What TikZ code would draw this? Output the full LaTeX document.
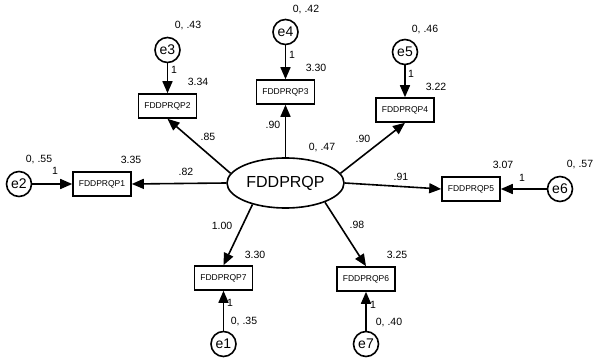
\documentclass[tikz,border=0pt]{standalone}
\usepackage{fontspec}
\setmainfont{Liberation Sans}
\usetikzlibrary{arrows.meta,shapes.geometric}
\begin{document}
\begin{tikzpicture}[x=1pt,y=-1pt,
 obs/.style={draw,line width=1.6pt,minimum width=58pt,minimum height=24pt,inner sep=0pt,font=\fontsize{8.5}{9}\selectfont},
 err/.style={draw,circle,line width=1.6pt,minimum size=25pt,inner sep=0pt,font=\fontsize{14}{14}\selectfont},
 lat/.style={draw,ellipse,line width=1.6pt,minimum width=117pt,minimum height=50pt,inner sep=0pt,font=\fontsize{16}{16}\selectfont},
 num/.style={font=\fontsize{10.5}{11}\selectfont,inner sep=0pt},
 arr/.style={line width=1.6pt,-{Triangle[length=12pt,width=10pt]}}
]
\useasboundingbox[fill=white] (0,0) rectangle (595,358);
\node[lat] (F) at (285.5,183) {FDDPRQP};
\node[obs] (P1) at (102,184) {FDDPRQP1};
\node[obs] (P2) at (167.5,106) {FDDPRQP2};
\node[obs] (P3) at (285.5,92) {FDDPRQP3};
\node[obs] (P4) at (405,110) {FDDPRQP4};
\node[obs] (P5) at (471,189) {FDDPRQP5};
\node[obs] (P6) at (366,279) {FDDPRQP6};
\node[obs] (P7) at (223.5,278) {FDDPRQP7};
\node[err] (e1) at (223.5,344) {e1};
\node[err] (e2) at (19,184) {e2};
\node[err] (e3) at (167.5,50) {e3};
\node[err] (e4) at (285.5,32) {e4};
\node[err] (e5) at (405,52) {e5};
\node[err] (e6) at (560,189) {e6};
\node[err] (e7) at (366,344) {e7};
% structural paths
\draw[arr] (F.west) -- (P1.east);
\draw[arr] (F.170) -- (P2.south);
\draw[arr] (F.north) -- (P3.south);
\draw[arr] (F.10) -- (P4.south);
\draw[arr] (F.east) -- (P5.west);
\draw[arr] (F.334) -- (P6.north);
\draw[arr] (F.213) -- (P7.north);
% error paths
\draw[arr] (e1) -- (P7);
\draw[arr] (e2) -- (P1);
\draw[arr] (e3) -- (P2);
\draw[arr] (e4) -- (P3);
\draw[arr] (e5) -- (P4);
\draw[arr] (e6) -- (P5);
\draw[arr] (e7) -- (P6);
% labels
\node[num] (v2) at (39,160) {0, .55};
\node[num] (o2) at (55,171) {1};
\node[num] (i1) at (131,160) {3.35};
\node[num] (w1) at (186,172) {.82};
\node[num] (v3) at (188,26) {0, .43};
\node[num] (o3) at (174,70) {1};
\node[num] (i2) at (198,82) {3.34};
\node[num] (w2) at (208,137) {.85};
\node[num] (v4) at (306,10) {0, .42};
\node[num] (o4) at (292,55) {1};
\node[num] (i3) at (316,68) {3.30};
\node[num] (w3) at (273,125) {.90};
\node[num] (v5) at (425,30) {0, .46};
\node[num] (o5) at (411,74) {1};
\node[num] (i4) at (436,87) {3.22};
\node[num] (w4) at (363,139) {.90};
\node[num] (vF) at (322,148) {0, .47};
\node[num] (v6) at (580,165) {0, .57};
\node[num] (o6) at (522,178) {1};
\node[num] (i5) at (503,165) {3.07};
\node[num] (w5) at (401,177) {.91};
\node[num] (i6) at (397,255) {3.25};
\node[num] (w6) at (357,225) {.98};
\node[num] (o7) at (373,305) {1};
\node[num] (v7) at (389,323) {0, .40};
\node[num] (i7) at (255,255) {3.30};
\node[num] (w7) at (222,226) {1.00};
\node[num] (o1) at (230,303) {1};
\node[num] (v1) at (244,322) {0, .35};
\end{tikzpicture}
\end{document}
